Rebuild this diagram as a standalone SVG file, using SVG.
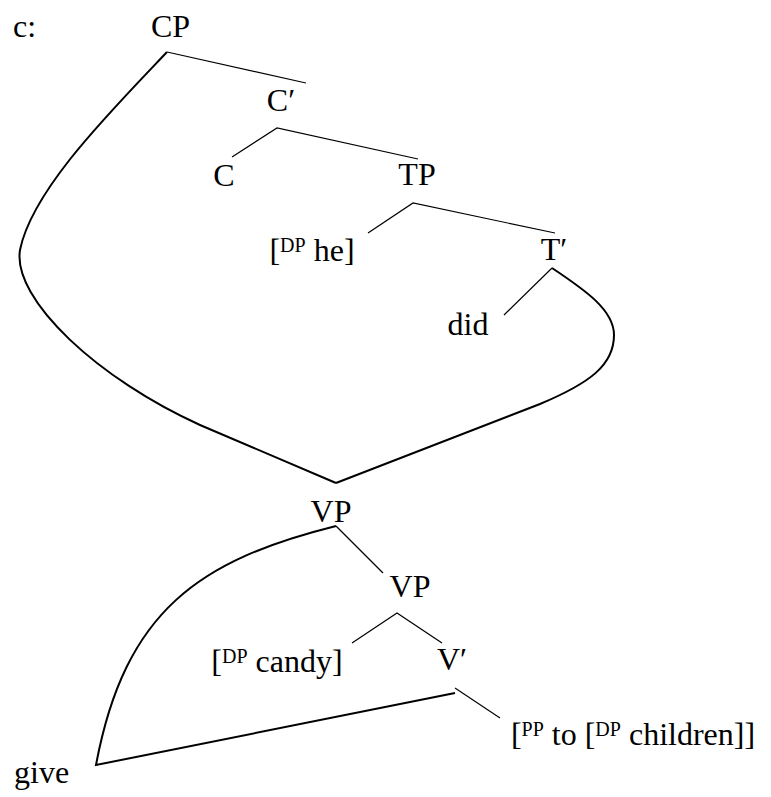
<svg xmlns="http://www.w3.org/2000/svg" width="771" height="797" viewBox="0 0 771 797">
<style>
text{font-family:"Liberation Serif","Times New Roman",serif;font-size:32px;fill:#000}
.m{text-anchor:middle}
.sup{font-size:20px}
.tree{stroke:#000;stroke-width:1.2;fill:none}
.move{stroke:#000;stroke-width:2;fill:none}
</style>
<rect width="771" height="797" fill="#fff"/>
<g id="connectors">
<path class="tree" d="M167,52 L306,83"/>
<path class="tree" d="M232,157 L277,128 L418,159"/>
<path class="tree" d="M368,233 L413,203 L555,233"/>
<path class="tree" d="M504,315 L552,268"/>
<path class="tree" d="M336,526 L383,573"/>
<path class="tree" d="M352,643 L397,613 L442,643"/>
<path class="tree" d="M455,688 L500,718"/>
<path class="move" d="M167,52 C110,112 32,190 20,250 C12,300 100,380 200,425 L336,483"/>
<path class="move" d="M552,268 C585,290 614,310 614,335 C614,365 590,383 540,404 L336,483"/>
<path class="move" d="M336,526 C200,560 125,610 96,765 L455,693"/>
</g>
<g id="label-c"><text x="13" y="37">c:</text></g>
<g id="node-CP"><text class="m" x="170.5" y="37">CP</text></g>
<g id="node-Cbar"><text class="m" x="281" y="111">C′</text></g>
<g id="node-C"><text class="m" x="224" y="186">C</text></g>
<g id="node-TP"><text class="m" x="417" y="185">TP</text></g>
<g id="node-DPhe"><text class="m" x="312" y="261">[<tspan class="sup" dy="-9">DP</tspan><tspan dy="9"> he]</tspan></text></g>
<g id="node-Tbar"><text class="m" x="554" y="260">T′</text></g>
<g id="node-did"><text class="m" x="468" y="335">did</text></g>
<g id="node-VP1"><text class="m" x="331" y="522">VP</text></g>
<g id="node-VP2"><text class="m" x="410" y="597">VP</text></g>
<g id="node-DPcandy"><text class="m" x="277" y="672">[<tspan class="sup" dy="-9">DP</tspan><tspan dy="9"> candy]</tspan></text></g>
<g id="node-Vbar"><text class="m" x="452" y="670">V′</text></g>
<g id="node-PP"><text class="m" x="633" y="745">[<tspan class="sup" dy="-9">PP</tspan><tspan dy="9"> to [</tspan><tspan class="sup" dy="-9">DP</tspan><tspan dy="9"> children]]</tspan></text></g>
<g id="node-give"><text x="14" y="783">give</text></g>
</svg>
